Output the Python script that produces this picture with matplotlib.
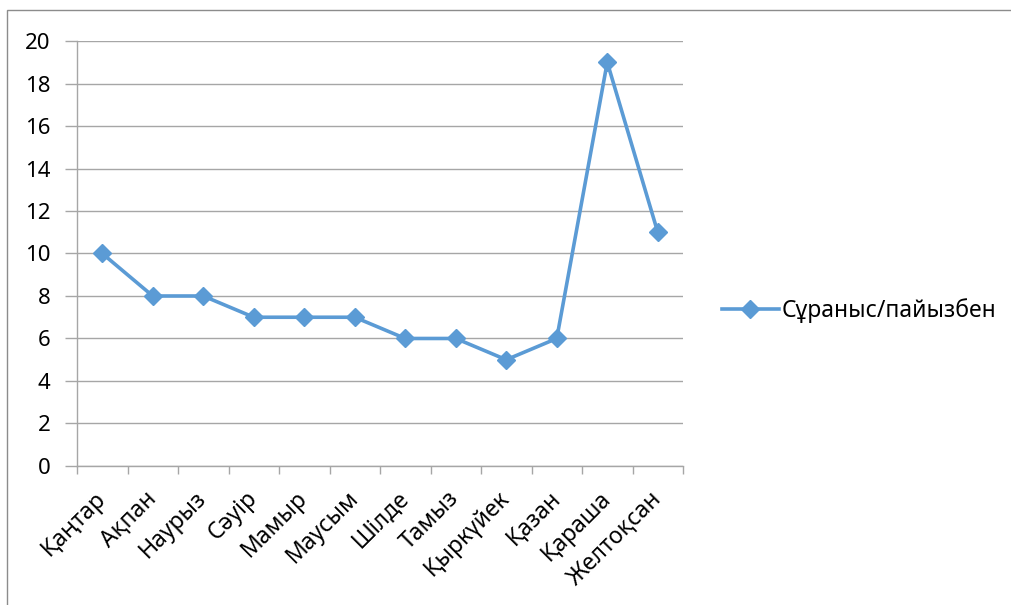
import numpy as np
import matplotlib
matplotlib.use('Agg')
import matplotlib.pyplot as plt
from matplotlib.patches import Rectangle

plt.rcParams['font.family'] = ['Noto Sans', 'DejaVu Sans']

# Айлар мен сұраныс (%)
months = ['Қаңтар', 'Ақпан', 'Наурыз', 'Сәуір', 'Мамыр', 'Маусым',
          'Шілде', 'Тамыз', 'Қыркүйек', 'Қазан', 'Қараша', 'Желтоқсан']
demand = [10, 8, 8, 7, 7, 7, 6, 6, 5, 6, 19, 11]
y_ticks = [0, 2, 4, 6, 8, 10, 12, 14, 16, 18, 20]

line_color = '#5B9BD5'
grid_color = '#A6A6A6'
fs = 16.5

fig = plt.figure(figsize=(10.12, 6.05), dpi=100)
ax = fig.add_axes([0.0761, 0.2298, 0.5988, 0.7024])

x = np.arange(len(months))
ax.plot(x, demand, color=line_color, lw=2.6, marker='D', markersize=9.5,
        label='Сұраныс/пайызбен')

ax.set_xlim(-0.5, len(months) - 0.5)
ax.set_ylim(0, 20)
ax.set_yticks(y_ticks)
ax.yaxis.grid(True, color=grid_color, lw=1)
ax.set_axisbelow(True)

# подписи месяцев по центру, засечки на границах категорий
ax.set_xticks(x)
ax.set_xticklabels(months, rotation=45, ha='right', va='center',
                   rotation_mode='anchor', fontsize=fs)
ax.set_xticks(np.arange(-0.5, len(months)), minor=True)
ax.tick_params(axis='x', which='major', length=0, pad=21)
ax.tick_params(axis='x', which='minor', length=6, color=grid_color, width=1, direction='out')
ax.tick_params(axis='y', length=9, color=grid_color, width=1, labelsize=16, pad=10)

for side in ['top', 'right']:
    ax.spines[side].set_visible(False)
for side in ['left', 'bottom']:
    ax.spines[side].set_color(grid_color)
    ax.spines[side].set_linewidth(1)

ax.legend(loc='center left', bbox_to_anchor=(1.03, 0.365), frameon=False,
          fontsize=fs, handlelength=2.5, handletextpad=0.1)

# рамка вокруг диаграммы
fig.patches.append(Rectangle((0.007, -0.1), 1.1, 1.083, transform=fig.transFigure,
                             fill=False, edgecolor='#8C8C8C', lw=1))

fig.savefig('out.png', dpi=100)
